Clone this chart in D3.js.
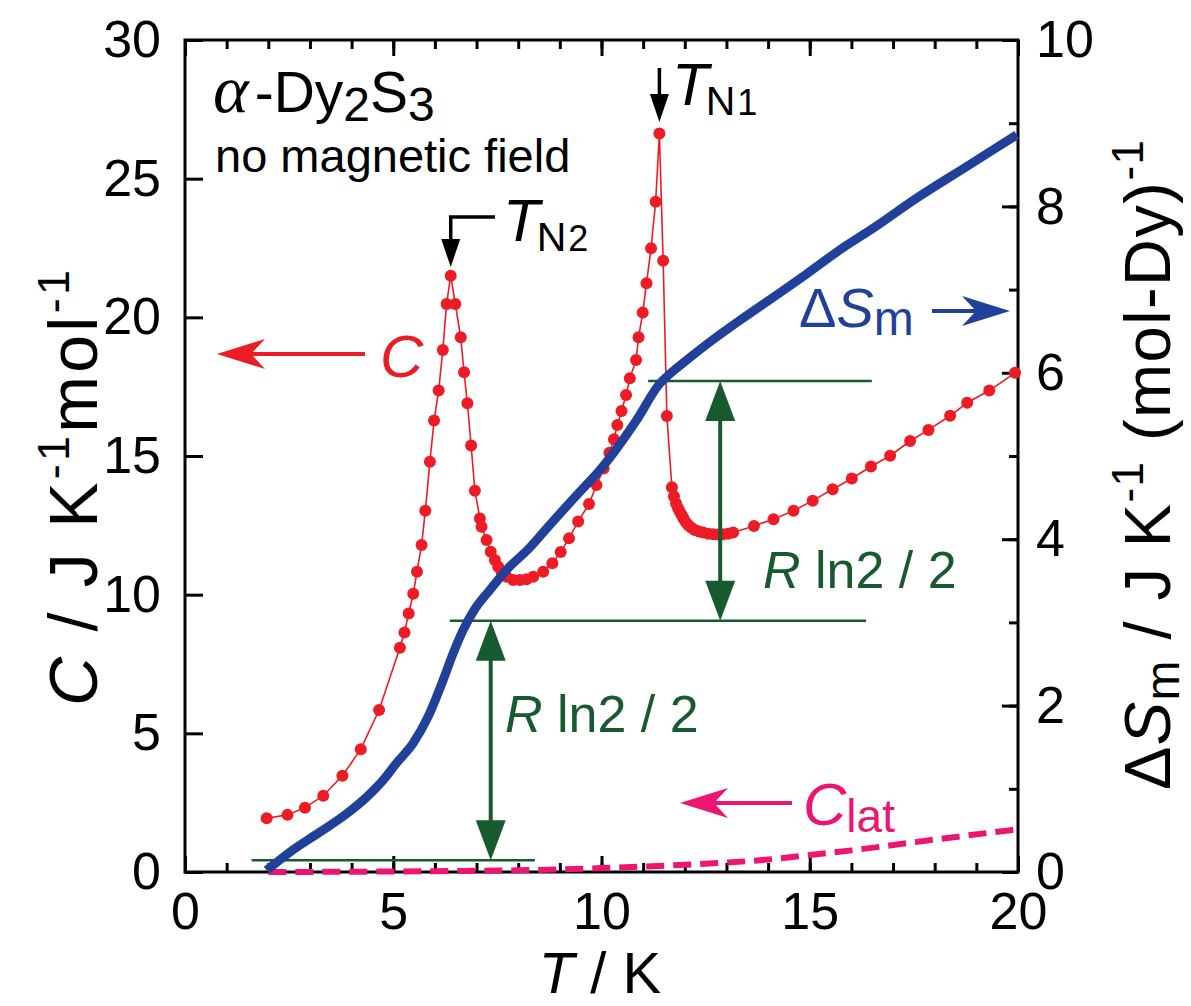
<!DOCTYPE html>
<html>
<head>
<meta charset="utf-8">
<script src="https://cdn.jsdelivr.net/npm/d3@7"></script>
<style>
  body { margin: 0; background: #fff; }
  svg text { font-family: "Liberation Sans", Arial, Helvetica, sans-serif; }
</style>
</head>
<body>
<div id="chart"></div>
<script>
(function () {
  const Red = "#ed1c24";
  const Blue = "#21409a";
  const Green = "#165a2d";
  const Pink = "#ec1571";

  // specific heat C (left axis)
  const cT = [1.96, 2.46, 2.88, 3.32, 3.78, 4.22, 4.66, 5.16, 5.27, 5.37, 5.48, 5.57, 5.68, 5.77, 5.88, 5.98,
    6.09, 6.19, 6.28, 6.38, 6.49, 6.62, 6.70, 6.78, 6.87, 6.96, 7.08, 7.12, 7.24, 7.34, 7.44, 7.52, 7.60,
    7.72, 7.88, 8.04, 8.20, 8.36, 8.60, 8.82, 9.02, 9.22, 9.44, 9.70, 9.88, 10.05, 10.19, 10.30, 10.38,
    10.48, 10.59, 10.68, 10.83, 10.89, 10.99, 11.08, 11.19, 11.30, 11.39, 11.48, 11.57, 11.69, 11.74,
    11.79, 11.84, 11.88, 11.93, 11.97, 12.02, 12.08, 12.15, 12.24, 12.34, 12.44, 12.56, 12.68, 12.80,
    12.92, 13.04, 13.16, 13.66, 14.13, 14.61, 15.07, 15.55, 16.01, 16.47, 16.93, 17.41, 17.85, 18.37,
    18.78, 19.31, 19.93];
  const cVal = [1.94, 2.06, 2.32, 2.75, 3.47, 4.43, 5.84, 8.09, 8.64, 9.32, 10.03, 10.83, 11.79, 13.03, 14.79, 16.28,
    17.36, 18.82, 20.48, 21.50, 20.48, 19.28, 18.02, 16.90, 15.38, 13.75, 12.75, 12.45, 11.97, 11.55, 11.25, 11.01, 10.83,
    10.65, 10.53, 10.53, 10.56, 10.65, 10.83, 11.13, 11.54, 12.03, 12.64, 13.27, 13.95, 14.55, 15.12, 15.60, 16.12,
    16.62, 17.20, 17.80, 18.46, 19.28, 20.17, 21.23, 22.49, 24.17, 26.63, 22.04, 16.44, 13.87, 13.55,
    13.29, 13.12, 12.99, 12.86, 12.75, 12.62, 12.51, 12.42, 12.33, 12.28, 12.24, 12.20, 12.18, 12.17,
    12.18, 12.20, 12.24, 12.48, 12.72, 13.03, 13.39, 13.80, 14.19, 14.62, 15.01, 15.54, 15.94, 16.45,
    16.92, 17.36, 18.00];

  // magnetic entropy (right axis)
  const sT = [1.96, 2.52, 3.24, 3.88, 4.36, 4.75, 5.08, 5.48, 5.84, 6.20, 6.44, 6.68, 6.92, 7.32, 7.72, 8.28, 8.72,
    9.48, 9.96, 10.84, 11.40, 11.56, 12.04, 12.60, 13.32, 14.13, 14.93, 15.73, 16.53, 17.57, 18.77, 19.97];
  const sVal = [0.02, 0.24, 0.48, 0.70, 0.90, 1.10, 1.31, 1.55, 1.87, 2.31, 2.63, 2.91, 3.13, 3.39, 3.63, 3.90, 4.15,
    4.57, 4.83, 5.43, 5.87, 5.95, 6.15, 6.37, 6.63, 6.91, 7.19, 7.48, 7.74, 8.10, 8.48, 8.86];

  // lattice contribution (left axis)
  const latT = [2, 4, 6, 8, 10, 12, 14, 15, 16, 18, 20];
  const latVal = [0.0, 0.01, 0.03, 0.06, 0.14, 0.26, 0.45, 0.61, 0.78, 1.17, 1.54];

  // entropy levels separated by R ln2 / 2 (right axis)
  const sLevels = [0.14, 3.02, 5.90];
  const levelSpan = [[1.6, 8.4], [6.36, 16.35], [11.12, 16.49]];
  const arrowT = [7.34, 12.85];
  const peakT = [11.39, 6.38];

  const xTicks = [0, 5, 10, 15, 20];
  const yLeftTicks = [0, 5, 10, 15, 20, 25, 30];
  const yRightTicks = [0, 2, 4, 6, 8, 10];

  const W = 1191, H = 1006;
  const svg = d3.select("#chart").append("svg").attr("width", W).attr("height", H);

  const x = d3.scaleLinear().domain([0, 20]).range([185, 1018]);
  const yL = d3.scaleLinear().domain([0, 30]).range([872, 40]);
  const yR = d3.scaleLinear().domain([0, 10]).range([872, 40]);

  const left = x.range()[0], right = x.range()[1], top = yL.range()[1], bottom = yL.range()[0];

  function styleAxis(g) {
    g.select(".domain").remove();
    g.selectAll(".tick line").attr("stroke", "#000").attr("stroke-width", 3);
    g.selectAll(".tick text").attr("fill", "#000").style("font-size", "52px")
      .style("font-family", "'Liberation Sans', Arial, sans-serif");
  }

  // minor ticks
  const minorX = d3.range(0, 21, 1);
  svg.append("g").attr("transform", "translate(0," + bottom + ")")
    .call(d3.axisBottom(x).tickValues(minorX).tickSizeInner(-9).tickSizeOuter(0).tickFormat(""))
    .call(styleAxis);
  svg.append("g").attr("transform", "translate(0," + top + ")")
    .call(d3.axisTop(x).tickValues(minorX).tickSizeInner(-9).tickSizeOuter(0).tickFormat(""))
    .call(styleAxis);
  svg.append("g").attr("transform", "translate(" + right + ",0)")
    .call(d3.axisRight(yR).tickValues(d3.range(0, 11, 1)).tickSizeInner(-9).tickSizeOuter(0).tickFormat(""))
    .call(styleAxis);

  // major ticks
  svg.append("g").attr("transform", "translate(0," + bottom + ")")
    .call(d3.axisBottom(x).tickValues(xTicks).tickSizeInner(-16).tickSizeOuter(0).tickPadding(20))
    .call(styleAxis);
  svg.append("g").attr("transform", "translate(0," + top + ")")
    .call(d3.axisTop(x).tickValues(xTicks).tickSizeInner(-16).tickSizeOuter(0).tickFormat(""))
    .call(styleAxis);
  svg.append("g").attr("transform", "translate(" + left + ",0)")
    .call(d3.axisLeft(yL).tickValues(yLeftTicks).tickSizeInner(-18).tickSizeOuter(0).tickPadding(24))
    .call(styleAxis);
  svg.append("g").attr("transform", "translate(" + right + ",0)")
    .call(d3.axisRight(yR).tickValues(yRightTicks).tickSizeInner(-16).tickSizeOuter(0).tickPadding(18))
    .call(styleAxis);

  // frame
  svg.append("rect").attr("x", left).attr("y", top)
    .attr("width", right - left).attr("height", bottom - top)
    .attr("fill", "none").attr("stroke", "#000").attr("stroke-width", 3);

  // lattice dashed line
  const latData = latT.map((t, i) => [t, latVal[i]]);
  svg.append("path").datum(latData)
    .attr("d", d3.line().x(d => x(d[0])).y(d => yL(d[1])).curve(d3.curveMonotoneX))
    .attr("fill", "none").attr("stroke", Pink).attr("stroke-width", 6)
    .attr("stroke-dasharray", "18,9");

  // green levels
  svg.selectAll(".level").data(sLevels).enter().append("line")
    .attr("x1", (d, i) => x(levelSpan[i][0])).attr("x2", (d, i) => x(levelSpan[i][1]))
    .attr("y1", d => yR(d)).attr("y2", d => yR(d))
    .attr("stroke", Green).attr("stroke-width", 2.5);

  // specific heat
  const cData = cT.map((t, i) => [t, cVal[i]]);
  svg.append("path").datum(cData)
    .attr("d", d3.line().x(d => x(d[0])).y(d => yL(d[1])))
    .attr("fill", "none").attr("stroke", Red).attr("stroke-width", 1.6);
  svg.selectAll(".cdot").data(cData).enter().append("circle")
    .attr("cx", d => x(d[0])).attr("cy", d => yL(d[1])).attr("r", 6).attr("fill", Red);

  // entropy
  const sData = sT.map((t, i) => [t, sVal[i]]);
  svg.append("path").datum(sData)
    .attr("d", d3.line().x(d => x(d[0])).y(d => yR(d[1])).curve(d3.curveMonotoneX))
    .attr("fill", "none").attr("stroke", Blue).attr("stroke-width", 9).attr("stroke-linecap", "butt")
    .attr("stroke-linejoin", "round");

  // double arrows (R ln2 / 2)
  arrowT.forEach(function (t, i) {
    const ax = x(t), y0 = yR(sLevels[i]), y1 = yR(sLevels[i + 1]);
    svg.append("line").attr("x1", ax).attr("x2", ax).attr("y1", y0 - 30).attr("y2", y1 + 30)
      .attr("stroke", Green).attr("stroke-width", 4);
    svg.append("path").attr("d", `M${ax},${y1}L${ax - 15},${y1 + 40}L${ax + 15},${y1 + 40}Z`).attr("fill", Green);
    svg.append("path").attr("d", `M${ax},${y0}L${ax - 15},${y0 - 40}L${ax + 15},${y0 - 40}Z`).attr("fill", Green);
  });

  function rln2(tx, ty) {
    const t = svg.append("text").attr("x", tx).attr("y", ty).attr("fill", Green).style("font-size", "52px");
    t.append("tspan").style("font-style", "italic").text("R");
    t.append("tspan").text(" ln2 / 2");
  }
  rln2(505, 732);
  rln2(763, 588);

  // pointing arrows with notched heads
  function notchArrow(x1, y1, x2, y2, color) {
    const ang = Math.atan2(y2 - y1, x2 - x1) * 180 / Math.PI;
    const len = Math.hypot(x2 - x1, y2 - y1);
    const g = svg.append("g").attr("transform", `translate(${x2},${y2}) rotate(${ang})`);
    g.append("line").attr("x1", -len).attr("x2", -30).attr("y1", 0).attr("y2", 0)
      .attr("stroke", color).attr("stroke-width", 4);
    g.append("path").attr("d", "M0,0L-48,-15L-34,0L-48,15Z").attr("fill", color);
  }
  notchArrow(365, 354, 217, 354, Red);
  notchArrow(932, 311, 1010, 311, Blue);
  notchArrow(792, 803, 680, 803, Pink);

  // transition arrows
  const n1x = x(peakT[0]), n2x = x(peakT[1]);
  svg.append("line").attr("x1", n1x).attr("x2", n1x).attr("y1", 68).attr("y2", 96)
    .attr("stroke", "#000").attr("stroke-width", 3.5);
  svg.append("path").attr("d", `M${n1x},122L${n1x - 9.5},94L${n1x + 9.5},94Z`).attr("fill", "#000");
  svg.append("path").attr("d", `M495,217L${n2x},217L${n2x},242`)
    .attr("fill", "none").attr("stroke", "#000").attr("stroke-width", 3.5);
  svg.append("path").attr("d", `M${n2x},267L${n2x - 9.5},239L${n2x + 9.5},239Z`).attr("fill", "#000");

  // T_N labels
  function tnLabel(tx, ty, sub) {
    const t = svg.append("text").attr("x", tx).attr("y", ty).attr("fill", "#000");
    t.append("tspan").style("font-style", "italic").style("font-size", "60px").text("T");
    t.append("tspan").attr("dx", -3).attr("dy", 10).style("font-size", "41px").text("N");
    t.append("tspan").attr("dx", 2).style("font-size", "36px").text(sub);
  }
  tnLabel(672, 105, "1");
  tnLabel(503, 241, "2");

  // sample label
  const title = svg.append("text").attr("x", 213).attr("y", 112).attr("fill", "#000");
  title.append("tspan").style("font-family", "'Liberation Serif', 'DejaVu Serif', serif")
    .style("font-style", "italic").style("font-size", "68px").text("α");
  title.append("tspan").attr("dx", 6).style("font-size", "57px").text("-Dy");
  title.append("tspan").attr("dy", 9).style("font-size", "48px").text("2");
  title.append("tspan").attr("dy", -9).style("font-size", "57px").text("S");
  title.append("tspan").attr("dy", 9).style("font-size", "48px").text("3");
  svg.append("text").attr("x", 215).attr("y", 172).attr("fill", "#000")
    .style("font-size", "47px").text("no magnetic field");

  // curve labels
  svg.append("text").attr("x", 380).attr("y", 377).attr("fill", Red)
    .style("font-size", "60px").style("font-style", "italic").text("C");

  const sl = svg.append("text").attr("x", 799).attr("y", 327).attr("fill", Blue);
  sl.append("tspan").style("font-size", "56px").text("Δ");
  sl.append("tspan").style("font-size", "56px").style("font-style", "italic").text("S");
  sl.append("tspan").attr("dy", 8).style("font-size", "48px").text("m");

  const cl = svg.append("text").attr("x", 803).attr("y", 825).attr("fill", Pink);
  cl.append("tspan").style("font-size", "60px").style("font-style", "italic").text("C");
  cl.append("tspan").attr("dy", 7).style("font-size", "46px").text("lat");

  // axis titles
  const xt = svg.append("text").attr("x", 600).attr("y", 993).attr("text-anchor", "middle")
    .attr("fill", "#000").style("font-size", "58px");
  xt.append("tspan").style("font-style", "italic").text("T");
  xt.append("tspan").text(" / K");

  const ylt = svg.append("text").attr("transform", "translate(97,488) rotate(-90)")
    .attr("text-anchor", "middle").attr("fill", "#000").style("font-size", "68px")
    .attr("textLength", 436).attr("lengthAdjust", "spacing");
  ylt.append("tspan").style("font-style", "italic").text("C");
  ylt.append("tspan").text(" / J K");
  ylt.append("tspan").attr("dy", -28).style("font-size", "45px").text("-1");
  ylt.append("tspan").attr("dy", 28).text("mol");
  ylt.append("tspan").attr("dy", -28).style("font-size", "45px").text("-1");

  const yrt = svg.append("text").attr("transform", "translate(1170,465) rotate(-90)")
    .attr("text-anchor", "middle").attr("fill", "#000").style("font-size", "65px")
    .attr("textLength", 650).attr("lengthAdjust", "spacing");
  yrt.append("tspan").text("Δ");
  yrt.append("tspan").style("font-style", "italic").text("S");
  yrt.append("tspan").attr("dy", 9).style("font-size", "48px").text("m");
  yrt.append("tspan").attr("dy", -9).text(" / J K");
  yrt.append("tspan").attr("dy", -27).style("font-size", "44px").text("-1");
  yrt.append("tspan").attr("dy", 27).text(" (mol-Dy)");
  yrt.append("tspan").attr("dy", -27).style("font-size", "44px").text("-1");
})();
</script>
</body>
</html>
